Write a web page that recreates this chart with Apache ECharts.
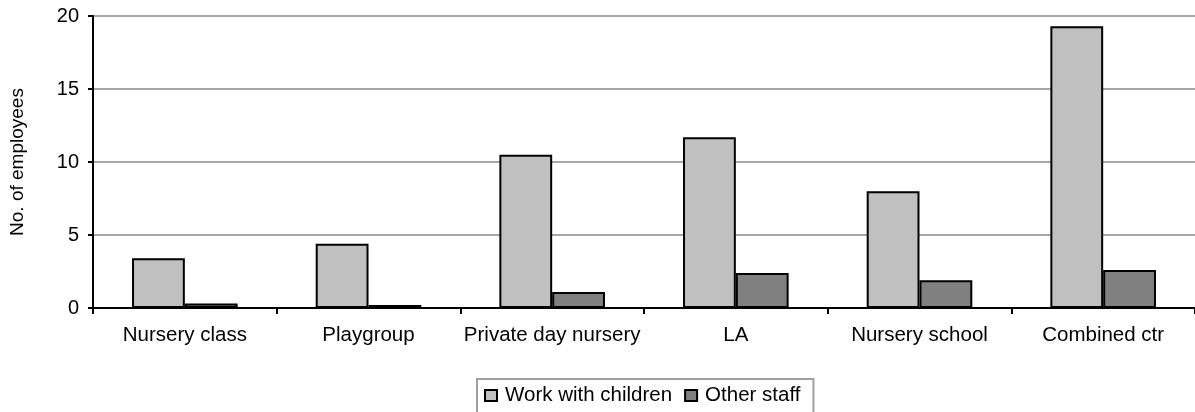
<!DOCTYPE html>
<html>
<head>
<meta charset="utf-8">
<script src="https://cdn.jsdelivr.net/npm/echarts@6/dist/echarts.min.js"></script>
<style>
  html, body { margin: 0; padding: 0; background: #fff; }
  #chart { width: 1195px; height: 412px; }
</style>
</head>
<body>
<div id="chart"></div>
<script>
const categories = ["Nursery class", "Playgroup", "Private day nursery", "LA", "Nursery school", "Combined ctr"];
const workWithChildren = [3.4, 4.4, 10.5, 11.7, 8.0, 19.3];
const otherStaff = [0.3, 0.2, 1.1, 2.4, 1.9, 2.6];
const seriesNames = ["Work with children", "Other staff"];
const yTicks = { min: 0, max: 20, interval: 5 };

const FONT = "'Liberation Sans', Arial, sans-serif";
const chart = echarts.init(document.getElementById('chart'), null, { renderer: 'canvas' });
chart.setOption({
  animation: false,
  backgroundColor: '#ffffff',
  textStyle: { fontFamily: FONT, color: '#000' },
  grid: { left: 92, right: -4, top: 16, bottom: 104, containLabel: false },
  legend: {
    data: seriesNames,
    left: 477,
    top: 379,
    orient: 'horizontal',
    icon: 'rect',
    itemWidth: 12,
    itemHeight: 11,
    itemGap: 12,
    padding: [6, 13, 8, 7],
    borderColor: '#a0a0a0',
    borderWidth: 2,
    textStyle: { fontFamily: FONT, fontSize: 20.5, color: '#000', padding: [0, 0, 0, 3] }
  },
  xAxis: {
    type: 'category',
    data: categories,
    boundaryGap: true,
    axisLine: { show: true, lineStyle: { color: '#000', width: 2 } },
    axisTick: { show: true, alignWithLabel: false, length: 6, lineStyle: { color: '#000', width: 2 } },
    axisLabel: { fontFamily: FONT, fontSize: 20.5, color: '#000', margin: 17, interval: 0 },
    splitLine: { show: false }
  },
  yAxis: {
    type: 'value',
    min: yTicks.min,
    max: yTicks.max,
    interval: yTicks.interval,
    name: 'No. of employees',
    nameLocation: 'middle',
    nameRotate: 90,
    nameGap: 66,
    nameTextStyle: { fontFamily: FONT, fontSize: 19, color: '#000' },
    axisLine: { show: true, lineStyle: { color: '#000', width: 2 } },
    axisTick: { show: true, inside: false, length: 5, lineStyle: { color: '#000', width: 2 } },
    axisLabel: { fontFamily: FONT, fontSize: 20, color: '#000', margin: 14 },
    splitLine: { show: true, lineStyle: { color: '#a6a6a6', width: 2 } }
  },
  series: [
    {
      name: seriesNames[0],
      type: 'bar',
      data: workWithChildren,
      barGap: '0%',
      barCategoryGap: '42.5%',
      itemStyle: { color: '#c0c0c0', borderColor: '#000', borderWidth: 2 }
    },
    {
      name: seriesNames[1],
      type: 'bar',
      data: otherStaff,
      barGap: '0%',
      barCategoryGap: '42.5%',
      itemStyle: { color: '#808080', borderColor: '#000', borderWidth: 2 }
    }
  ]
});
</script>
</body>
</html>
